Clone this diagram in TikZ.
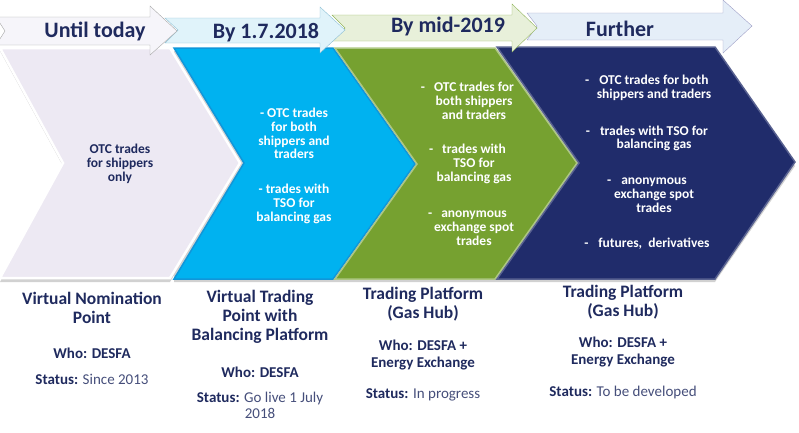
\documentclass[tikz,border=0pt]{standalone}
\usepackage{fontspec}
\setmainfont{Carlito}
\usepackage{tikz}
\usetikzlibrary{positioning,calc}

\definecolor{navytext}{HTML}{1F2A5E}
\definecolor{statustext}{HTML}{454E7A}
\definecolor{lavfill}{HTML}{EDE9F3}
\definecolor{bluefill}{HTML}{00B2F0}
\definecolor{greenfill}{HTML}{76A130}
\definecolor{navyfill}{HTML}{202C6B}
\definecolor{hdrA}{HTML}{F6F5FA}
\definecolor{hdrB}{HTML}{E0F3FA}
\definecolor{hdrC}{HTML}{E8F0DA}
\definecolor{hdrD}{HTML}{E5EEF8}

\newcommand{\stxt}[1]{\textcolor{statustext}{\mdseries #1}}

\begin{document}
\begin{tikzpicture}[x=1pt,y=-1pt,
	hdr/.style={font=\fontsize{22}{26}\selectfont\bfseries,text=navytext},
	inside/.style={font=\fontsize{13.5}{13.8}\selectfont\bfseries,align=center,inner sep=0pt},
	title/.style={font=\fontsize{17.5}{19}\selectfont\bfseries,text=navytext,align=center,inner sep=0pt},
	who/.style={font=\fontsize{15}{16.5}\selectfont\bfseries,text=navytext,align=center,inner sep=0pt},
	chev/.style={line width=1.5pt,line join=miter}]
	\useasboundingbox (0,0) rectangle (799,432);
	
	% chevrons
	\fill[black!18] (0,51) -- (170,51) -- (240,166) -- (170,282) -- (0,282) -- (63,166) -- cycle;
	\fill[black!18] (174,51) -- (715,51) -- (795,166) -- (715,282) -- (174,282) -- cycle;
	\draw[chev,fill=lavfill,draw=white,line width=2.5pt] (0,48) -- (170,48) -- (240,163) -- (170,278) -- (0,278) -- (63,163) -- cycle;
	\draw[chev,fill=bluefill,draw=cyan!35!bluefill] (174,48) -- (333,48) -- (415,164) -- (333,279) -- (174,279) -- (244,163) -- cycle;
	\draw[chev,fill=greenfill,draw=greenfill!60!white] (335,48) -- (495,48) -- (577,163) -- (495,279) -- (335,279) -- (417,164) -- cycle;
	\draw[chev,fill=navyfill,draw=navyfill!75!white] (497,47) -- (715,47) -- (795,162) -- (715,279) -- (497,279) -- (579,163) -- cycle;
	
	% header arrows
	\draw[fill=hdrD,draw=blue!25!gray!60] (527,13) -- (723,13) -- (723,0) -- (752,26) -- (723,53) -- (723,40) -- (527,40) -- (537,26) -- cycle;
	\draw[fill=hdrC,draw=greenfill!80] (332,15) -- (512,15) -- (512,4) -- (537,28) -- (512,52) -- (512,41) -- (332,41) -- (345,28) -- cycle;
	\draw[fill=hdrB,draw=cyan!50!gray!70] (165,18) -- (320,18) -- (320,7) -- (345,30) -- (320,53) -- (320,43) -- (165,43) -- (178,30) -- cycle;
	\draw[fill=hdrA,draw=black!35] (-4,17) -- (150,17) -- (150,6) -- (177,31) -- (150,55) -- (150,45) -- (-4,45) -- (5,31) -- cycle;
	
	\node[hdr] (today) at (95,31) {Until today};
	\node[hdr] (by2018) at (266,33) {By 1.7.2018};
	\node[hdr] (by2019) at (448,27) {By mid-2019};
	\node[hdr] (further) at (620,29) {Further};
	
	% inside the chevrons
	\node[inside,text=navytext] (otc1) at (120,164) {OTC trades\\for shippers\\only};
	
	\node[inside,text=white] (otc2) at (294,133.5) {- OTC trades\\for both\\shippers and\\traders};
	\node[inside,text=white] (tso2) at (294,204) {- trades with\\TSO for\\balancing gas};
	
	\node[inside,text=white] (otc3) at (474,101) {\llap{-\hspace{9pt}}OTC trades for\\both shippers\\and traders};
	\node[inside,text=white] (tso3) at (474,164) {\llap{-\hspace{9pt}}trades with\\TSO for\\balancing gas};
	\node[inside,text=white] (spot3) at (474,228) {\llap{-\hspace{9pt}}anonymous\\exchange spot\\trades};
	
	\node[inside,text=white] (otc4) at (654,88) {\llap{-\hspace{10pt}}OTC trades for both\\shippers and traders};
	\node[inside,text=white] (tso4) at (654,138.5) {\llap{-\hspace{10pt}}trades with TSO for\\balancing gas};
	\node[inside,text=white] (spot4) at (654,195.5) {\llap{-\hspace{10pt}}anonymous\\exchange spot\\trades};
	\node[inside,text=white] (fut4) at (654,244) {\llap{-\hspace{10pt}}futures,\ \ derivatives};
	
	% below the chevrons
	\node[title] (vnp) at (92,307.5) {Virtual Nomination\\Point};
	\node[who] (vnpwho) at (92,353) {Who: DESFA};
	\node[who] (vnpstat) at (92,379) {Status: \stxt{Since 2013}};
	
	\node[title] (vtp) at (260,317) {Virtual Trading\\Point with\\Balancing Platform};
	\node[who] (vtpwho) at (260,372) {Who: DESFA};
	\node[who] (vtpstat) at (260,405.5) {Status: \stxt{Go live 1 July}\\\stxt{2018}};
	
	\node[title] (hub) at (423,304.5) {Trading Platform\\(Gas Hub)};
	\node[who] (hubwho) at (423,355) {Who: DESFA +\\Energy Exchange};
	\node[who] (hubstat) at (423,395) {Status: \stxt{In progress}};
	
	\node[title] (hubf) at (623,302.5) {Trading Platform\\(Gas Hub)};
	\node[who] (hubfwho) at (623,352) {Who: DESFA +\\Energy Exchange};
	\node[who] (hubfstat) at (623,392) {Status: \stxt{To be developed}};
\end{tikzpicture}
\end{document}
